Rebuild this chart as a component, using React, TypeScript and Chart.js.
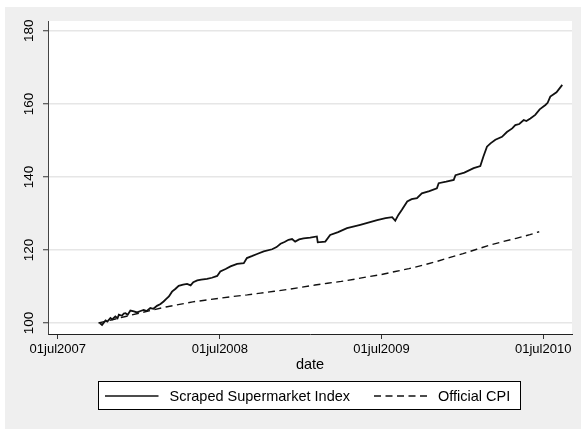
import React, { useEffect, useRef } from "react";
import { Chart, registerables } from "chart.js";

Chart.register(...registerables);

// Stata daily dates (days since 01jan1960)
const scrapedDates = [
  17443, 17448, 17456, 17460, 17467, 17471, 17478, 17483, 17486, 17493,
  17497, 17501, 17506, 17512, 17520, 17527, 17535, 17542, 17549, 17557,
  17564, 17572, 17580, 17587, 17593, 17599, 17606, 17614, 17621, 17631,
  17640, 17648, 17654, 17663, 17672, 17685, 17696, 17708, 17715, 17727,
  17738, 17753, 17768, 17775, 17786, 17798, 17813, 17832, 17842, 17851,
  17860, 17869, 17877, 17884, 17893, 17903, 17918, 17933, 17935, 17952,
  17963, 17981, 18001, 18015, 18031, 18049, 18069, 18088, 18103, 18110,
  18117, 18125, 18137, 18147, 18159, 18170, 18187, 18204, 18208, 18225,
  18242, 18246, 18266, 18287, 18302, 18309, 18317, 18325, 18336, 18351,
  18362, 18374, 18381, 18390, 18400, 18406, 18415, 18426, 18436, 18449,
  18454, 18460, 18474, 18487,
];
const scrapedValues = [
  100.0, 99.5, 100.7, 100.4, 101.4, 101.0, 101.8, 101.3, 102.3, 102.0,
  102.6, 102.7, 102.3, 103.4, 103.2, 102.9, 103.3, 103.6, 103.3, 104.1,
  103.9, 104.7, 105.2, 105.9, 106.6, 107.3, 108.6, 109.4, 110.2, 110.5,
  110.7, 110.3, 111.2, 111.7, 111.9, 112.1, 112.4, 112.9, 114.1, 114.8,
  115.5, 116.2, 116.4, 117.8, 118.3, 118.9, 119.6, 120.2, 120.8, 121.7,
  122.2, 122.8, 123.0, 122.3, 122.9, 123.2, 123.4, 123.7, 122.1, 122.3,
  124.1, 124.9, 126.0, 126.4, 126.9, 127.5, 128.2, 128.7, 129.0, 128.0,
  129.6, 131.0, 133.3, 133.9, 134.2, 135.5, 136.1, 136.9, 138.3, 138.7,
  139.2, 140.5, 141.2, 142.4, 143.0, 145.6, 148.3, 149.2, 150.2, 151.0,
  152.3, 153.3, 154.2, 154.5, 155.6, 155.3, 156.0, 157.0, 158.5, 159.7,
  160.3, 162.0, 163.2, 165.2,
];

const cpiDates = [
  17440, 17471, 17501, 17532, 17563, 17592, 17623, 17653, 17684, 17714,
  17745, 17776, 17806, 17837, 17867, 17898, 17929, 17957, 17988, 18018,
  18049, 18079, 18110, 18141, 18171, 18202, 18232, 18263, 18294, 18322,
  18353, 18383, 18414, 18435,
];
const cpiValues = [
  100.0, 100.9, 101.8, 102.7, 103.6, 104.4, 105.1, 105.8, 106.3, 106.8,
  107.3, 107.7, 108.2, 108.7, 109.2, 109.8, 110.4, 110.9, 111.4, 112.0,
  112.7, 113.3, 114.1, 114.9, 115.8, 116.8, 117.9, 119.0, 120.2, 121.3,
  122.3, 123.2, 124.2, 125.0,
];

const xTickDates = [17348, 17714, 18079, 18444];
const yTickValues = [100, 120, 140, 160, 180];
const xAxisTitle = "date";
const seriesLabels = ["Scraped Supermarket Index", "Official CPI"];
const monthNames = ["jan", "feb", "mar", "apr", "may", "jun", "jul", "aug", "sep", "oct", "nov", "dec"];

const FONT = '"Liberation Sans", Arial, Helvetica, sans-serif';

function stataDateLabel(d: number): string {
  const dt = new Date(Date.UTC(1960, 0, 1) + Math.round(d) * 86400000);
  return String(dt.getUTCDate()).padStart(2, "0") + monthNames[dt.getUTCMonth()] + dt.getUTCFullYear();
}

const backgroundPlugin = {
  id: "stataBackground",
  beforeDraw(chart: any) {
    const { ctx, width, height, chartArea } = chart;
    ctx.save();
    ctx.fillStyle = "#ffffff";
    ctx.fillRect(0, 0, width, height);
    ctx.fillStyle = "#efefef";
    ctx.fillRect(5, 7, width - 5, height - 7);
    ctx.fillStyle = "#ffffff";
    ctx.fillRect(chartArea.left, chartArea.top, chartArea.right - chartArea.left, chartArea.bottom - chartArea.top);
    ctx.restore();
  },
};

const legendPlugin = {
  id: "stataLegend",
  afterDraw(chart: any) {
    const { ctx } = chart;
    const left = 98.5, top = 381.5, right = 520.5, bottom = 409.5;
    const midY = 396;
    ctx.save();
    ctx.fillStyle = "#ffffff";
    ctx.fillRect(left, top, right - left, bottom - top);
    ctx.strokeStyle = "#000000";
    ctx.lineWidth = 1;
    ctx.strokeRect(left, top, right - left, bottom - top);

    ctx.lineWidth = 1.4;
    ctx.strokeStyle = "#111111";
    ctx.setLineDash([]);
    ctx.beginPath();
    ctx.moveTo(105, midY);
    ctx.lineTo(158.5, midY);
    ctx.stroke();

    ctx.setLineDash([7, 4.5]);
    ctx.beginPath();
    ctx.moveTo(374, midY);
    ctx.lineTo(429, midY);
    ctx.stroke();
    ctx.setLineDash([]);

    ctx.fillStyle = "#000000";
    ctx.font = `14.5px ${FONT}`;
    ctx.textAlign = "left";
    ctx.textBaseline = "middle";
    ctx.fillText(seriesLabels[0], 169.5, midY + 0.5);
    ctx.fillText(seriesLabels[1], 438, midY + 0.5);
    ctx.restore();
  },
};

export default function App() {
  const canvasRef = useRef<HTMLCanvasElement | null>(null);

  useEffect(() => {
    const canvas = canvasRef.current;
    if (!canvas) return;
    const chart = new Chart(canvas, {
      type: "line",
      data: {
        datasets: [
          {
            label: seriesLabels[0],
            data: scrapedDates.map((d, i) => ({ x: d, y: scrapedValues[i] })),
            borderColor: "#111111",
            borderWidth: 1.8,
            pointRadius: 0,
            tension: 0,
            fill: false,
          },
          {
            label: seriesLabels[1],
            data: cpiDates.map((d, i) => ({ x: d, y: cpiValues[i] })),
            borderColor: "#111111",
            borderWidth: 1.4,
            borderDash: [7, 4.5],
            pointRadius: 0,
            tension: 0,
            fill: false,
          },
        ],
      },
      options: {
        responsive: false,
        animation: false,
        devicePixelRatio: 1,
        layout: { padding: { top: 21, right: 9, left: 0, bottom: 0 } },
        plugins: {
          legend: { display: false },
          tooltip: { enabled: false },
        },
        scales: {
          x: {
            type: "linear",
            min: 17326,
            max: 18509,
            afterBuildTicks: (s: any) => {
              s.ticks = xTickDates.map((v) => ({ value: v }));
            },
            afterFit: (s: any) => {
              s.height = 95;
            },
            grid: {
              drawOnChartArea: false,
              drawTicks: true,
              tickLength: 5,
              tickColor: "#333333",
              tickWidth: 1,
            },
            border: { color: "#222222", width: 1 },
            ticks: {
              autoSkip: false,
              maxRotation: 0,
              minRotation: 0,
              padding: 3,
              color: "#000000",
              font: { family: FONT, size: 13 },
              callback: (v: any) => stataDateLabel(Number(v)),
            },
            title: {
              display: true,
              text: xAxisTitle,
              color: "#000000",
              font: { family: FONT, size: 14.5 },
              padding: { top: 0, bottom: 55 },
            },
          },
          y: {
            type: "linear",
            min: 97,
            max: 182.7,
            afterBuildTicks: (s: any) => {
              s.ticks = yTickValues.map((v) => ({ value: v }));
            },
            afterFit: (s: any) => {
              s.width = 48;
            },
            grid: {
              color: "#e6e6e6",
              lineWidth: 1.5,
              drawTicks: true,
              tickLength: 5,
              tickColor: "#333333",
              tickWidth: 1,
            },
            border: { color: "#444444", width: 1 },
            ticks: {
              autoSkip: false,
              minRotation: 90,
              maxRotation: 90,
              crossAlign: "center",
              padding: 2,
              color: "#000000",
              font: { family: FONT, size: 13.5 },
            },
          },
        },
      },
      plugins: [backgroundPlugin, legendPlugin],
    } as any);
    return () => chart.destroy();
  }, []);

  return (
    <div style={{ position: "fixed", left: 0, top: 0, width: 581, height: 429 }}>
      <canvas ref={canvasRef} width={581} height={429} style={{ display: "block", width: 581, height: 429 }} />
    </div>
  );
}
